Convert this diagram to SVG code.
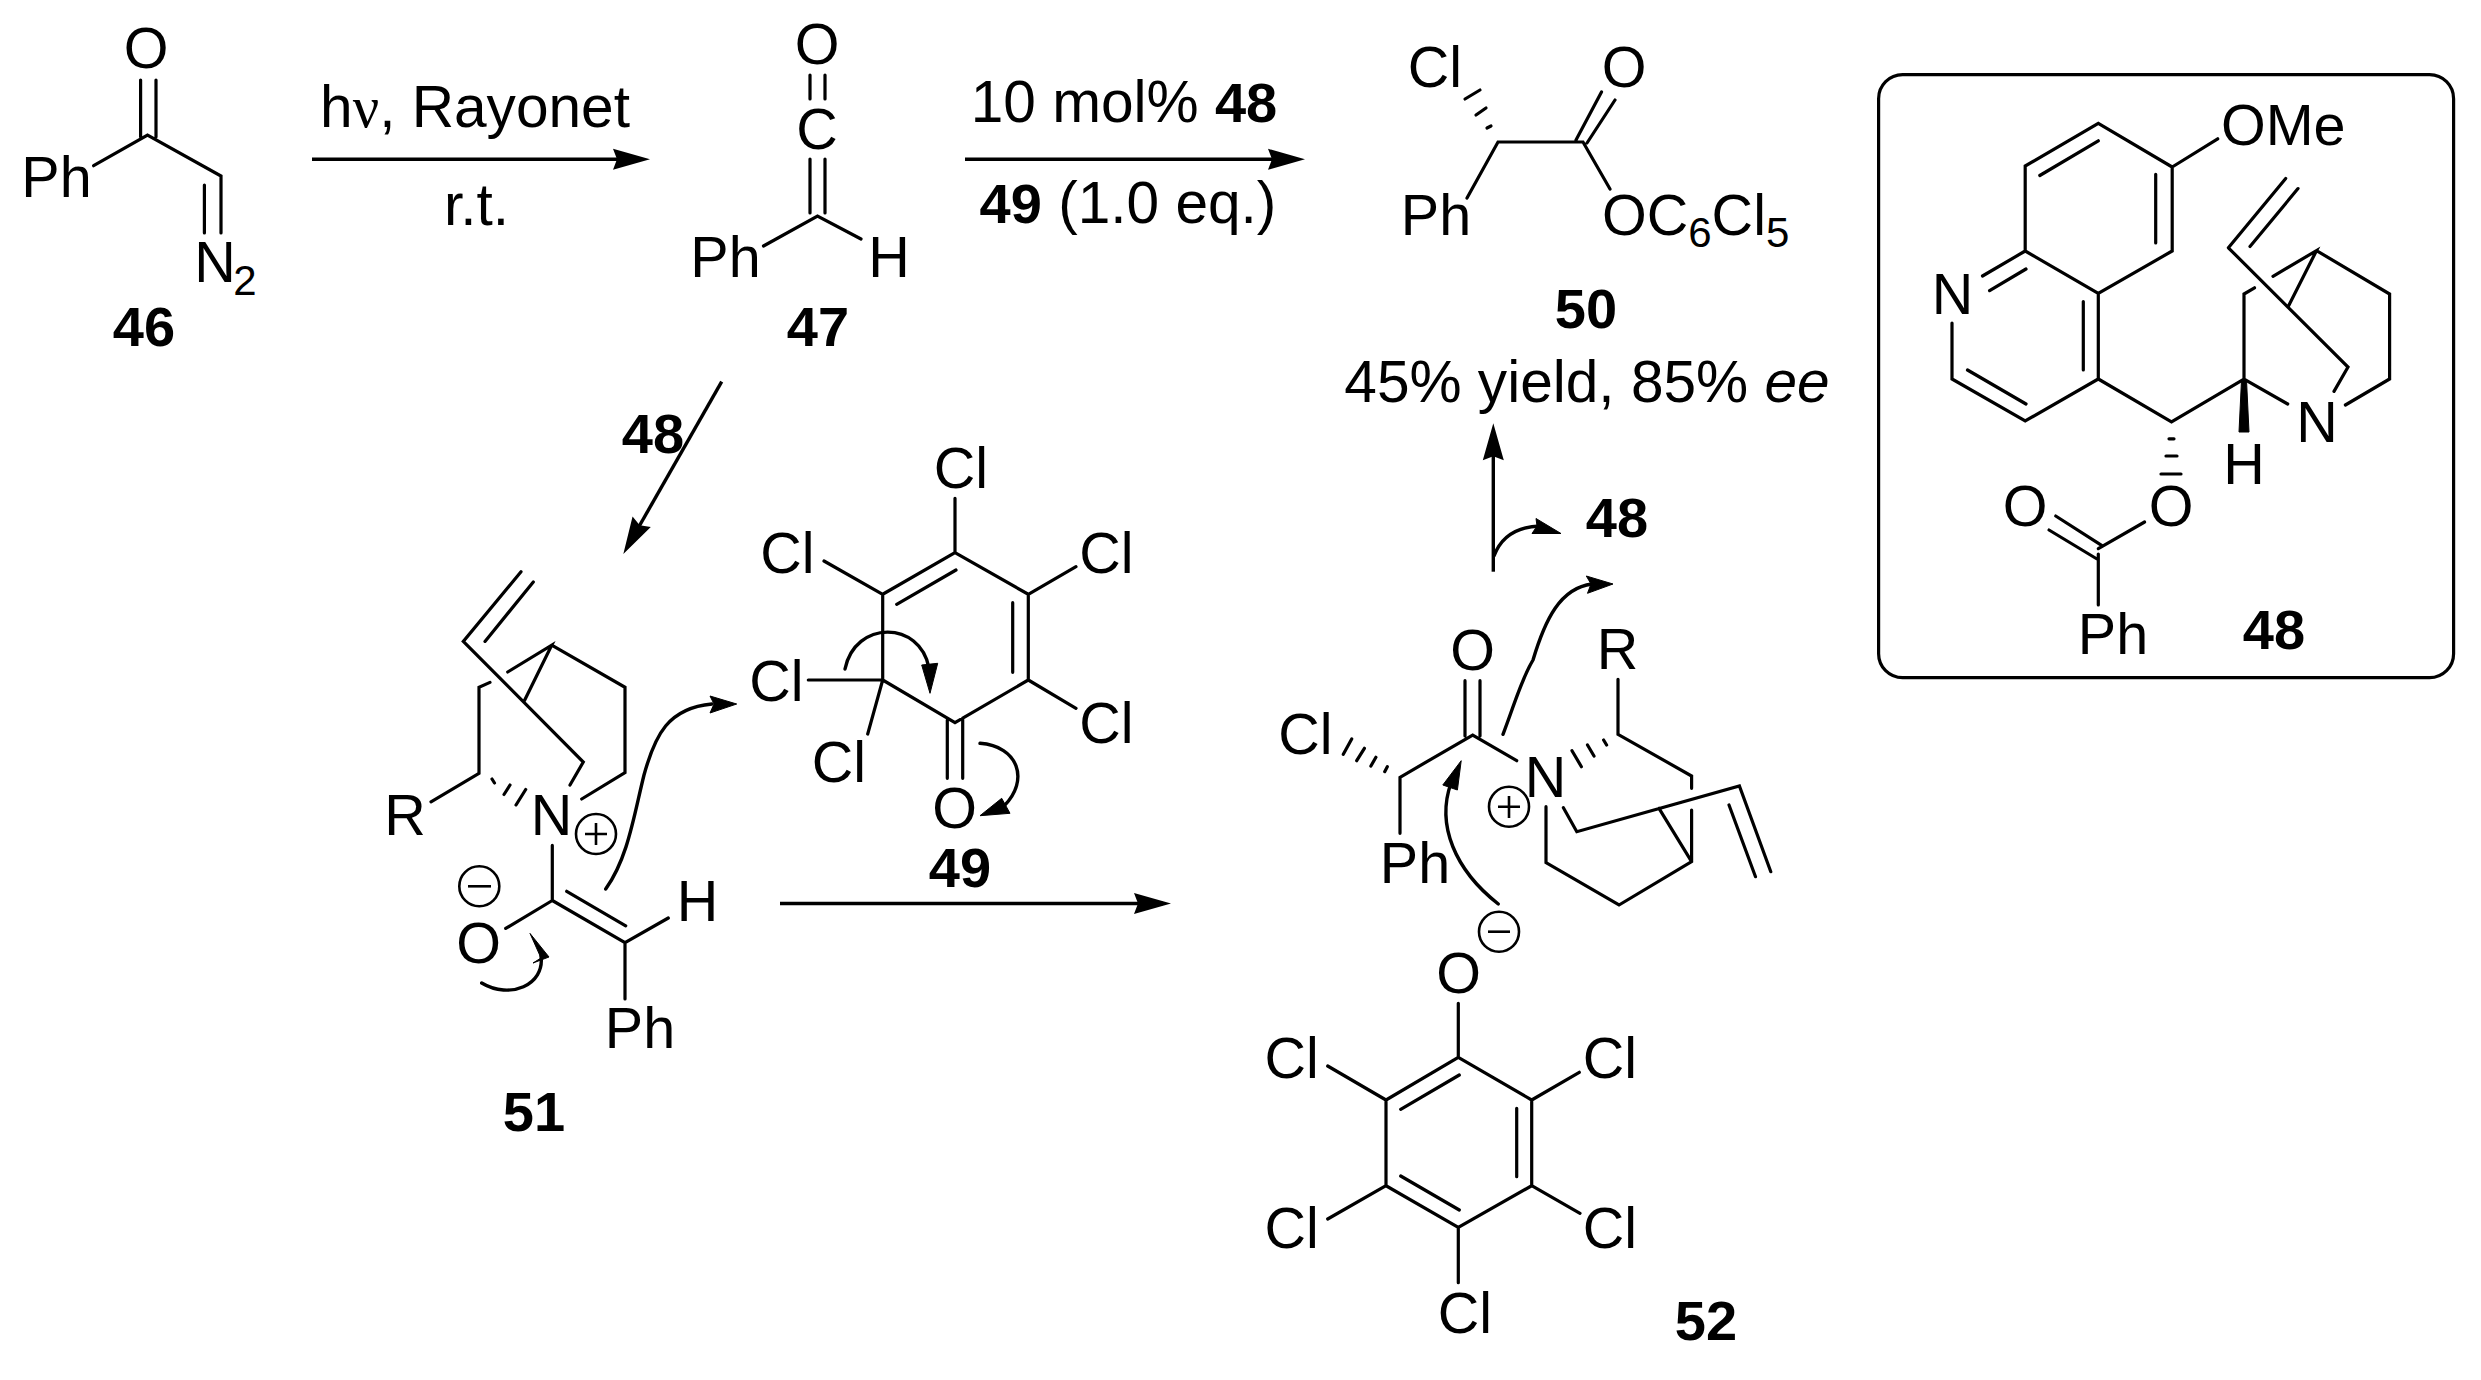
<svg xmlns="http://www.w3.org/2000/svg" width="2481" height="1380" viewBox="0 0 2481 1380">
<style>
text{font-family:"Liberation Sans",Arial,sans-serif;font-size:57.5px;fill:#000;text-anchor:middle}
.l{font-weight:700;font-size:56px}
.c{font-size:58.6px}
.s{text-anchor:start}
.i{font-style:italic}
.v{font-family:"Liberation Serif","Times New Roman",serif}
.sub{font-size:42px}
.bond{fill:none;stroke:#000;stroke-width:3.2;stroke-linecap:round;stroke-linejoin:miter}
.thin{fill:none;stroke:#000;stroke-width:2.6}
.arrow{fill:none;stroke:#000;stroke-width:3.4;marker-end:url(#head)}
.curve{fill:none;stroke:#000;stroke-width:3.4;stroke-linecap:round}
.hd{fill:#000;stroke:#000;stroke-width:1;stroke-linejoin:round}
.box{fill:none;stroke:#000;stroke-width:3.2}
</style>
<defs>
<marker id="head" markerUnits="userSpaceOnUse" markerWidth="40" markerHeight="24" refX="30" refY="12" orient="auto" viewBox="0 0 40 24">
<path d="M1 1.5 L38 12 L1 22.5 L5 12Z" fill="#000"/>
</marker>
</defs>
<rect width="2481" height="1380" fill="#fff"/>

<g id="connectors">
<path class="arrow" d="M312 159.3H642"/>
<path class="arrow" d="M965 159.3H1297"/>
<path class="arrow" d="M721.7 381.7L627.3 547"/>
<path class="arrow" d="M780 903.5H1163"/>
<path class="arrow" d="M1493.3 571.7V431.3"/>
<path class="curve" d="M1494 556C1500 540 1512 527 1540 526"/>
<polygon class="hd" points="1536,518.5 1561,533.5 1532,533.5 1537,526"/>
<path class="curve" d="M605.7 889C628 858 634 815 644 775C655 735 668 708 712 704"/>
<polygon class="hd" points="710,696 736.7,704 710,713 714,704"/>
<path class="curve" d="M481.7 983C510 1000 545 985 541 956"/>
<polygon class="hd" points="530,933.4 549,957 533,963 541,958"/>
<path class="curve" d="M845 669C855 620 920 620 929 668"/>
<polygon class="hd" points="921.7,665 937.7,663.3 930,693.3"/>
<path class="curve" d="M980 743.3C1018 746 1030 780 1004 806"/>
<polygon class="hd" points="1001.7,798.3 980,815.7 1010,813.3"/>
<path class="curve" d="M1498.3 904C1455 870 1436 825 1451 783"/>
<polygon class="hd" points="1442.8,785 1461.2,760.7 1457.4,790"/>
<path class="curve" d="M1503 734.3C1515 703 1521 680 1533 660C1545 620 1560 588 1592 584"/>
<polygon class="hd" points="1586.3,576 1613,584 1587.5,593.3 1591,584"/>
</g>

<g id="n46">
<path class="bond" d="M140.6 80V137M156 80V137M93.6 165.7L147.5 135L221 176V233M204.4 185V233"/>
<text x="146" y="68">O</text>
<text x="56.5" y="197">Ph</text>
<text x="215" y="282">N</text>
<text class="sub" x="245" y="295">2</text>
<text class="l" x="144" y="346">46</text>
</g>

<g id="n47">
<path class="bond" d="M810 75V99M825 75V99M810 159V213M825 159V213M763.5 246L817.5 216L861 239"/>
<text x="817" y="64">O</text>
<text x="817" y="149">C</text>
<text x="725.5" y="277">Ph</text>
<text x="889" y="277">H</text>
<text class="l" x="818" y="346">47</text>
</g>

<g id="n50">
<path class="bond" d="M1467 198L1498 142H1583L1610 189M1576 140L1601.5 92M1587 143L1615 100"/>
<path class="bond" d="M1465 99L1480 90M1476 115L1486 108M1487 128L1491 126"/>
<text x="1435" y="87">Cl</text>
<text x="1624" y="87">O</text>
<text x="1436" y="235">Ph</text>
<text class="s" x="1602" y="235">OC<tspan class="sub" dy="12">6</tspan><tspan dy="-12">Cl</tspan><tspan class="sub" dy="12">5</tspan></text>
<text class="l" x="1586" y="328">50</text>
<text class="c" x="1587" y="402">45% yield, 85% <tspan class="i">ee</tspan></text>
</g>

<g id="n48">
<rect class="box" x="1878.6" y="74.7" width="575" height="603" rx="24" ry="24"/>
<path class="bond" d="M2098.3 123.3L2172.2 167V251L2098.3 293.5L2025.2 251V166ZM2098.3 140.8L2039.8 175.5M2155.7 174.3V243M2098.3 293.5V379L2025.2 421L1952 379V323M2083.3 301.6V370M1967.5 370L2026 404M1982.5 276L2025.2 251M1989.6 290.6L2026 269M2172.2 167L2217.7 138.8"/>
<path class="bond" d="M2098.3 379L2171.5 422L2244 379L2287.7 404M2244 379V294L2254.5 287.8M2228.4 247.8L2285.7 178.4M2250 246.5L2298 188.6M2228.4 247.8L2348 367L2334 391.4M2288 307L2316.5 250.6L2273 276.3M2316.5 250.6L2389.6 294V379L2345.4 405"/>
<polygon class="hd" points="2241.5,380 2246.5,380 2249,432 2239,432"/>
<path class="bond" d="M2169 438.8H2174M2166 456H2177M2161 474H2181"/>
<path class="bond" d="M2144.6 522L2098.3 548.6M2097 559L2049 530M2102 545.7L2055.7 516M2098.3 554V605"/>
<text class="s" x="2221" y="145">OMe</text>
<text x="1952.5" y="314">N</text>
<text x="2317" y="441.6">N</text>
<text x="2244" y="483.7">H</text>
<text x="2171" y="526">O</text>
<text x="2025" y="526">O</text>
<text x="2113" y="654">Ph</text>
<text class="l" x="2274" y="649">48</text>
</g>

<g id="label48a"><text class="l" x="653" y="452.7">48</text></g>
<g id="label48b"><text class="l" x="1617" y="536.7">48</text></g>

<g id="n51">
<path class="bond" d="M521 571.8L463.3 641.4L583.3 762L570 785M485 641.4L533.3 582M524 701.5L551.7 645.2L507.7 672M551.7 645.2L625 687.3V772.7L581.7 799M490 682.4L479 687.3V773.4L431 801.8"/>
<path class="bond" d="M492 779L494.5 783M504 794.5L510 785M516 805L525.7 789.5"/>
<path class="bond" d="M552.3 845.4V900.5L625 942.6L668.3 918M566.7 891.3L625.7 925.8M625 942.6V999M552.3 900.5L505.7 928.4"/>
<circle class="thin" cx="596" cy="834" r="20"/><path class="thin" d="M585 834H607M596 823V845"/>
<circle class="thin" cx="479.3" cy="886.3" r="20"/><path class="thin" d="M468 886.3H491"/>
<text x="405" y="835">R</text>
<text x="551.5" y="835">N</text>
<text x="697.5" y="920.8">H</text>
<text x="478.6" y="963">O</text>
<text x="640" y="1048">Ph</text>
<text class="l" x="534" y="1131">51</text>
</g>

<g id="n49">
<path class="bond" d="M955 552.7L1028.3 594.3V680L955 722.7L882.7 680V594.3ZM956 570L896.7 604.3M1012.7 602.7V672.3M955 552.7V498.3M882.7 594.3L824 561M1028.3 594.3L1076 566.7M1028.3 680L1076 708.3M882.7 680H808.3M882.7 680L867.7 734M947.3 720V778.3M962.7 718V778.3"/>
<text x="960.8" y="488.3">Cl</text>
<text x="787.5" y="573.3">Cl</text>
<text x="1106.5" y="573.3">Cl</text>
<text x="1106.5" y="742.7">Cl</text>
<text x="776.3" y="700.7">Cl</text>
<text x="838.8" y="782.3">Cl</text>
<text x="954.5" y="828">O</text>
<text class="l" x="960" y="887.3">49</text>
</g>

<g id="n52">
<path class="bond" d="M1465 680.7V736M1480 680.7V736M1516.7 760.7L1472.7 735L1400 777.3V833.3"/>
<path class="bond" d="M1351.7 739L1343.3 754.3M1364.4 748.3L1356.7 760.7M1375.9 757.3L1370.9 766M1387.3 766.7L1384.7 771.7"/>
<path class="bond" d="M1618 679.3V734.3L1691.6 776V788.3M1691.6 810V861.7L1619 905L1546 862.7V806.7M1563.4 807.7L1576.8 831.7L1739.4 786L1770.8 871.7M1729 805L1755.5 876.7M1659 808.3L1691.6 861.7"/>
<path class="bond" d="M1603.6 740L1606.6 745M1587.5 745L1594 756M1572 750.7L1581.4 766.7"/>
<circle class="thin" cx="1509" cy="806.7" r="20"/><path class="thin" d="M1498 806.7H1520M1509 796V818"/>
<circle class="thin" cx="1499" cy="931.7" r="20"/><path class="thin" d="M1488 931.7H1510"/>
<path class="bond" d="M1458.3 1003.3V1057.3M1458.3 1057.3L1531.7 1100V1185.7L1458.3 1227.3L1386 1185.7V1100ZM1459.3 1075L1400.7 1109.3M1516.7 1108.3V1176.7M1400.7 1176L1459.3 1210M1386 1100L1327.7 1066M1531.7 1100L1579.3 1072.3M1386 1185.7L1327.7 1219M1531.7 1185.7L1580 1213.3M1458.3 1227.3V1282.7"/>
<text x="1472.5" y="669.5">O</text>
<text x="1305.5" y="754">Cl</text>
<text x="1415" y="882.7">Ph</text>
<text x="1545.5" y="796.7">N</text>
<text x="1617.5" y="669">R</text>
<text x="1458.6" y="993">O</text>
<text x="1291.7" y="1077.7">Cl</text>
<text x="1610" y="1077.7">Cl</text>
<text x="1291.7" y="1248.3">Cl</text>
<text x="1610" y="1248.3">Cl</text>
<text x="1465" y="1333.3">Cl</text>
<text class="l" x="1706" y="1340">52</text>
</g>

<g id="conditions">
<text class="c" x="475" y="127">h<tspan class="v">ν</tspan>, Rayonet</text>
<text class="c" x="476.5" y="225">r.t.</text>
<text class="c" x="1124" y="122">10 mol% <tspan class="l">48</tspan></text>
<text class="c" x="1128" y="223"><tspan class="l">49</tspan> (1.0 eq.)</text>
</g>
</svg>
